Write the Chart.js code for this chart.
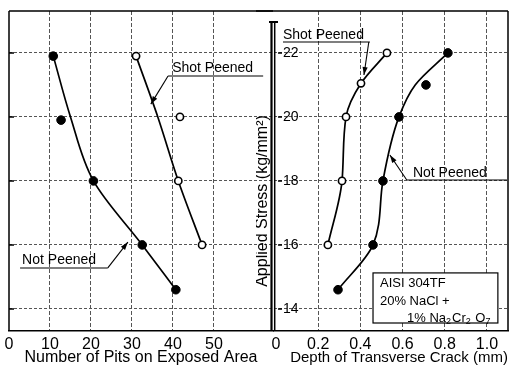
<!DOCTYPE html>
<html>
<head>
<meta charset="utf-8">
<script src="https://cdn.jsdelivr.net/npm/chart.js@4.4.1/dist/chart.umd.min.js"></script>
<style>
body { margin: 0; background: #fff; }
#wrap { position: relative; width: 513px; height: 367px; overflow: hidden; }
canvas { position: absolute; top: 0; }
#pits { left: 0; }
#depth { left: 256px; }
</style>
</head>
<body>
<div id="wrap">
  <canvas id="pits" width="275" height="367"></canvas>
  <canvas id="depth" width="257" height="367"></canvas>
</div>
<script>
// values
const stressTicks = [14, 16, 18, 20, 22];
const pitTicks = [0, 10, 20, 30, 40, 50];
const depthTicks = [0, 0.2, 0.4, 0.6, 0.8, 1.0];

// left panel - number of pits
const pitsNotX = [10.8, 12.7, 20.6, 32.5, 40.7];
const pitsNotY = [21.9, 19.9, 18, 16, 14.6];
const pitsShotX = [31, 41.7, 41.3, 47.1];
const pitsShotY = [21.9, 20, 18, 16];
// faired curves as drawn in the figure (ordered by stress)
const pitsNotCurveX = [40.7, 32.5, 20.6, 15, 10.8];
const pitsNotCurveY = [14.6, 16, 18, 20, 21.9];
const pitsShotCurveX = [47.1, 41.3, 36.3, 31];
const pitsShotCurveY = [16, 18, 20, 21.9];

// right panel - crack depth (mm)
const depthShotX = [0.246, 0.313, 0.332, 0.403, 0.526];
const depthShotY = [16, 18, 20, 21.05, 22];
const depthNotX = [0.294, 0.46, 0.507, 0.583, 0.711, 0.815];
const depthNotY = [14.6, 16, 18, 20, 21, 22];
const depthShotCurveX = [0.246, 0.313, 0.332, 0.403, 0.526];
const depthShotCurveY = [16, 18, 20, 21.05, 22];
const depthNotCurveX = [0.294, 0.46, 0.507, 0.583, 0.66, 0.815];
const depthNotCurveY = [14.6, 16, 18, 20, 21, 22];

const FONT = "'Liberation Sans', Arial, sans-serif";
Chart.defaults.font.family = FONT;
Chart.defaults.color = '#111';

const pts = (xs, ys) => xs.map((x, i) => ({ x, y: ys[i] }));

function filled(xs, ys) {
    return { data: pts(xs, ys), showLine: false, pointRadius: 4.3, pointBackgroundColor: '#000', pointBorderColor: '#000', pointBorderWidth: 1, order: 0 };
}
function hollow(xs, ys) {
    return { data: pts(xs, ys), showLine: false, pointRadius: 3.6, pointBackgroundColor: '#fff', pointBorderColor: '#000', pointBorderWidth: 1.6, order: 0 };
}
// smooth curve, monotone along the stress axis
function curve(xs, ys) {
    return { data: pts(xs, ys), indexAxis: 'y', showLine: true, pointRadius: 0, borderColor: '#000', borderWidth: 1.7, cubicInterpolationMode: 'monotone', order: 1 };
}

const gridCol = ctx => (ctx.tick && ctx.tick.value === 0) ? 'rgba(0,0,0,0)' : '#555';

function arrow(ctx, x1, y1, x2, y2) {
    ctx.beginPath();
    ctx.moveTo(x1, y1);
    ctx.lineTo(x2, y2);
    ctx.stroke();
    const a = Math.atan2(y2 - y1, x2 - x1);
    ctx.beginPath();
    ctx.moveTo(x2, y2);
    ctx.lineTo(x2 - 8 * Math.cos(a) + 2.6 * Math.sin(a), y2 - 8 * Math.sin(a) - 2.6 * Math.cos(a));
    ctx.lineTo(x2 - 8 * Math.cos(a) - 2.6 * Math.sin(a), y2 - 8 * Math.sin(a) + 2.6 * Math.cos(a));
    ctx.closePath();
    ctx.fill();
}

// labels with underline + leader arrow, placed in data units
function drawNotes(chart, notes) {
    const { ctx, scales: { x, y } } = chart;
    ctx.save();
    ctx.fillStyle = '#000';
    ctx.strokeStyle = '#000';
    ctx.lineWidth = 1.1;
    ctx.font = '14px ' + FONT;
    ctx.textBaseline = 'middle';
    notes.forEach(n => {
        ctx.fillText(n.text, x.getPixelForValue(n.x), y.getPixelForValue(n.y));
        const uy = y.getPixelForValue(n.uy);
        ctx.beginPath();
        ctx.moveTo(x.getPixelForValue(n.u1), uy);
        ctx.lineTo(x.getPixelForValue(n.u2), uy);
        ctx.stroke();
        arrow(ctx, x.getPixelForValue(n.from), uy, x.getPixelForValue(n.tip[0]), y.getPixelForValue(n.tip[1]));
    });
    ctx.restore();
}

const axisFrame = {
    id: 'axisFrame',
    beforeDatasetsDraw(chart, args, opts) {
        const { ctx, chartArea: a, scales: { y } } = chart;
        ctx.save();
        ctx.strokeStyle = '#000';
        ctx.lineWidth = 1.5;
        ctx.beginPath();
        if (opts.side === 'left') {
            ctx.moveTo(a.left, a.top);
            ctx.lineTo(a.right, a.top);
            ctx.moveTo(a.left, a.top);
            ctx.lineTo(a.left, a.bottom);
            stressTicks.forEach(v => {
                ctx.moveTo(a.left, y.getPixelForValue(v));
                ctx.lineTo(a.left + 5, y.getPixelForValue(v));
            });
        } else {
            ctx.moveTo(0, a.top);
            ctx.lineTo(a.right, a.top);
            ctx.moveTo(a.right, a.top);
            ctx.lineTo(a.right, a.bottom);
            stressTicks.forEach(v => {
                ctx.moveTo(a.left + 4, y.getPixelForValue(v));
                ctx.lineTo(a.left + 8, y.getPixelForValue(v));
            });
        }
        ctx.stroke();
        ctx.restore();
    },
    afterDatasetsDraw(chart, args, opts) {
        drawNotes(chart, opts.notes);
        if (opts.side !== 'right') return;
        const { ctx, chartArea: a, scales: { x, y } } = chart;
        ctx.save();
        // double stress axis line
        ctx.strokeStyle = '#000';
        ctx.lineWidth = 2.2;
        ctx.beginPath();
        ctx.moveTo(a.left - 2.5, a.top + 11);
        ctx.lineTo(a.left - 2.5, a.bottom);
        ctx.stroke();
        ctx.lineWidth = 1.5;
        ctx.beginPath();
        ctx.moveTo(a.left + 0.7, a.top + 11);
        ctx.lineTo(a.left + 0.7, a.bottom);
        ctx.stroke();
        ctx.lineWidth = 2;
        ctx.beginPath();
        ctx.moveTo(a.left - 5, a.top + 11);
        ctx.lineTo(a.left + 4, a.top + 11);
        ctx.stroke();

        // axis title
        ctx.save();
        ctx.translate(a.left - 11, 201);
        ctx.rotate(-Math.PI / 2);
        ctx.font = '16px ' + FONT;
        ctx.fillStyle = '#000';
        ctx.textAlign = 'center';
        ctx.textBaseline = 'middle';
        ctx.fillText('Applied Stress (kg/mm²)', 0, 0);
        ctx.restore();

        // condition box
        const bx1 = x.getPixelForValue(0.46), bx2 = x.getPixelForValue(1.052);
        const by1 = y.getPixelForValue(15.125), by2 = y.getPixelForValue(13.56);
        ctx.fillStyle = '#fff';
        ctx.fillRect(bx1, by1, bx2 - bx1, by2 - by1);
        ctx.lineWidth = 1.2;
        ctx.strokeRect(bx1, by1, bx2 - bx1, by2 - by1);
        ctx.fillStyle = '#000';
        ctx.font = '13px ' + FONT;
        ctx.textBaseline = 'middle';
        const tx = x.getPixelForValue(0.493);
        ctx.fillText('AISI 304TF', tx, y.getPixelForValue(14.81));
        ctx.fillText('20% NaCl +', tx, y.getPixelForValue(14.22));
        let cx = x.getPixelForValue(0.621);
        const cy = y.getPixelForValue(13.69);
        [['1% Na', 0], ['2', 1], ['Cr', 0], ['2', 1], [' O', 0], ['7', 1]].forEach(([s, sub]) => {
            ctx.font = (sub ? '9px ' : '13px ') + FONT;
            ctx.fillText(s, cx, cy + (sub ? 3 : 0));
            cx += ctx.measureText(s).width + (sub ? 1 : 0);
        });
        ctx.restore();
    }
};

function axisTicks(values) {
    return scale => { scale.ticks = values.map(v => ({ value: v })); };
}

// left chart: pits
new Chart(document.getElementById('pits'), {
    type: 'scatter',
    data: {
        datasets: [
            filled(pitsNotX, pitsNotY),
            hollow(pitsShotX, pitsShotY),
            curve(pitsNotCurveX, pitsNotCurveY),
            curve(pitsShotCurveX, pitsShotCurveY)
        ]
    },
    options: {
        responsive: false,
        animation: false,
        layout: { autoPadding: false, padding: { left: 9, top: 11, right: 2, bottom: 0 } },
        plugins: {
            legend: { display: false },
            tooltip: { enabled: false },
            axisFrame: {
                side: 'left',
                notes: [
                    { text: 'Shot Peened', x: 39.8, y: 21.53, uy: 21.28, u1: 38.8, u2: 62, from: 38.8, tip: [34.6, 20.4] },
                    { text: 'Not Peened', x: 3.2, y: 15.53, uy: 15.28, u1: 2.7, u2: 24.1, from: 24.1, tip: [29.0, 16.09] }
                ]
            }
        },
        scales: {
            x: {
                type: 'linear', min: 0, max: 64.4,
                afterBuildTicks: axisTicks(pitTicks),
                afterFit: s => { s.height = 36; },
                ticks: { padding: 4, font: { size: 16 }, color: '#000' },
                grid: { color: gridCol, lineWidth: 1, drawTicks: false },
                border: { display: true, color: '#000', width: 1.5, dash: [4, 2] },
                title: { display: true, text: 'Number of Pits on Exposed Area', font: { size: 16 }, color: '#000', padding: 0 }
            },
            y: {
                type: 'linear', min: 13.31, max: 23.31,
                afterBuildTicks: axisTicks(stressTicks),
                afterFit: s => { s.width = 0; s.paddingTop = 0; s.paddingBottom = 0; },
                ticks: { display: false },
                grid: { color: '#555', lineWidth: 1, drawTicks: false },
                border: { display: false, dash: [3, 2] }
            }
        }
    },
    plugins: [axisFrame]
});

// right chart: crack depth
new Chart(document.getElementById('depth'), {
    type: 'scatter',
    data: {
        datasets: [
            filled(depthNotX, depthNotY),
            hollow(depthShotX, depthShotY),
            curve(depthNotCurveX, depthNotCurveY),
            curve(depthShotCurveX, depthShotCurveY)
        ]
    },
    options: {
        responsive: false,
        animation: false,
        layout: { autoPadding: false, padding: { left: 0, top: 11, right: 5, bottom: 0 } },
        plugins: {
            legend: { display: false },
            tooltip: { enabled: false },
            axisFrame: {
                side: 'right',
                notes: [
                    { text: 'Shot Peened', x: 0.033, y: 22.56, uy: 22.34, u1: 0.033, u2: 0.445, from: 0.44, tip: [0.417, 21.31] },
                    { text: 'Not Peened', x: 0.649, y: 18.25, uy: 18.03, u1: 0.62, u2: 1.095, from: 0.62, tip: [0.54, 18.81] }
                ]
            }
        },
        scales: {
            x: {
                type: 'linear', min: -0.0095, max: 1.1,
                afterBuildTicks: axisTicks(depthTicks),
                afterFit: s => { s.height = 36; },
                ticks: { padding: 4, font: { size: 16 }, color: '#000', callback: v => v === 0 ? '0' : v.toFixed(1) },
                grid: { color: gridCol, lineWidth: 1, drawTicks: false },
                border: { display: true, color: '#000', width: 1.5, dash: [4, 2] },
                title: { display: true, text: 'Depth of Transverse Crack (mm)', align: 'end', font: { size: 15 }, color: '#000', padding: 0 }
            },
            y: {
                type: 'linear', min: 13.31, max: 23.31,
                afterBuildTicks: axisTicks(stressTicks),
                afterFit: s => { s.width = 18; s.paddingTop = 0; s.paddingBottom = 0; },
                ticks: { mirror: true, padding: 9, font: { size: 14 }, color: '#000' },
                grid: { color: '#555', lineWidth: 1, drawTicks: false },
                border: { display: false, dash: [3, 2] }
            }
        }
    },
    plugins: [axisFrame]
});
</script>
</body>
</html>
